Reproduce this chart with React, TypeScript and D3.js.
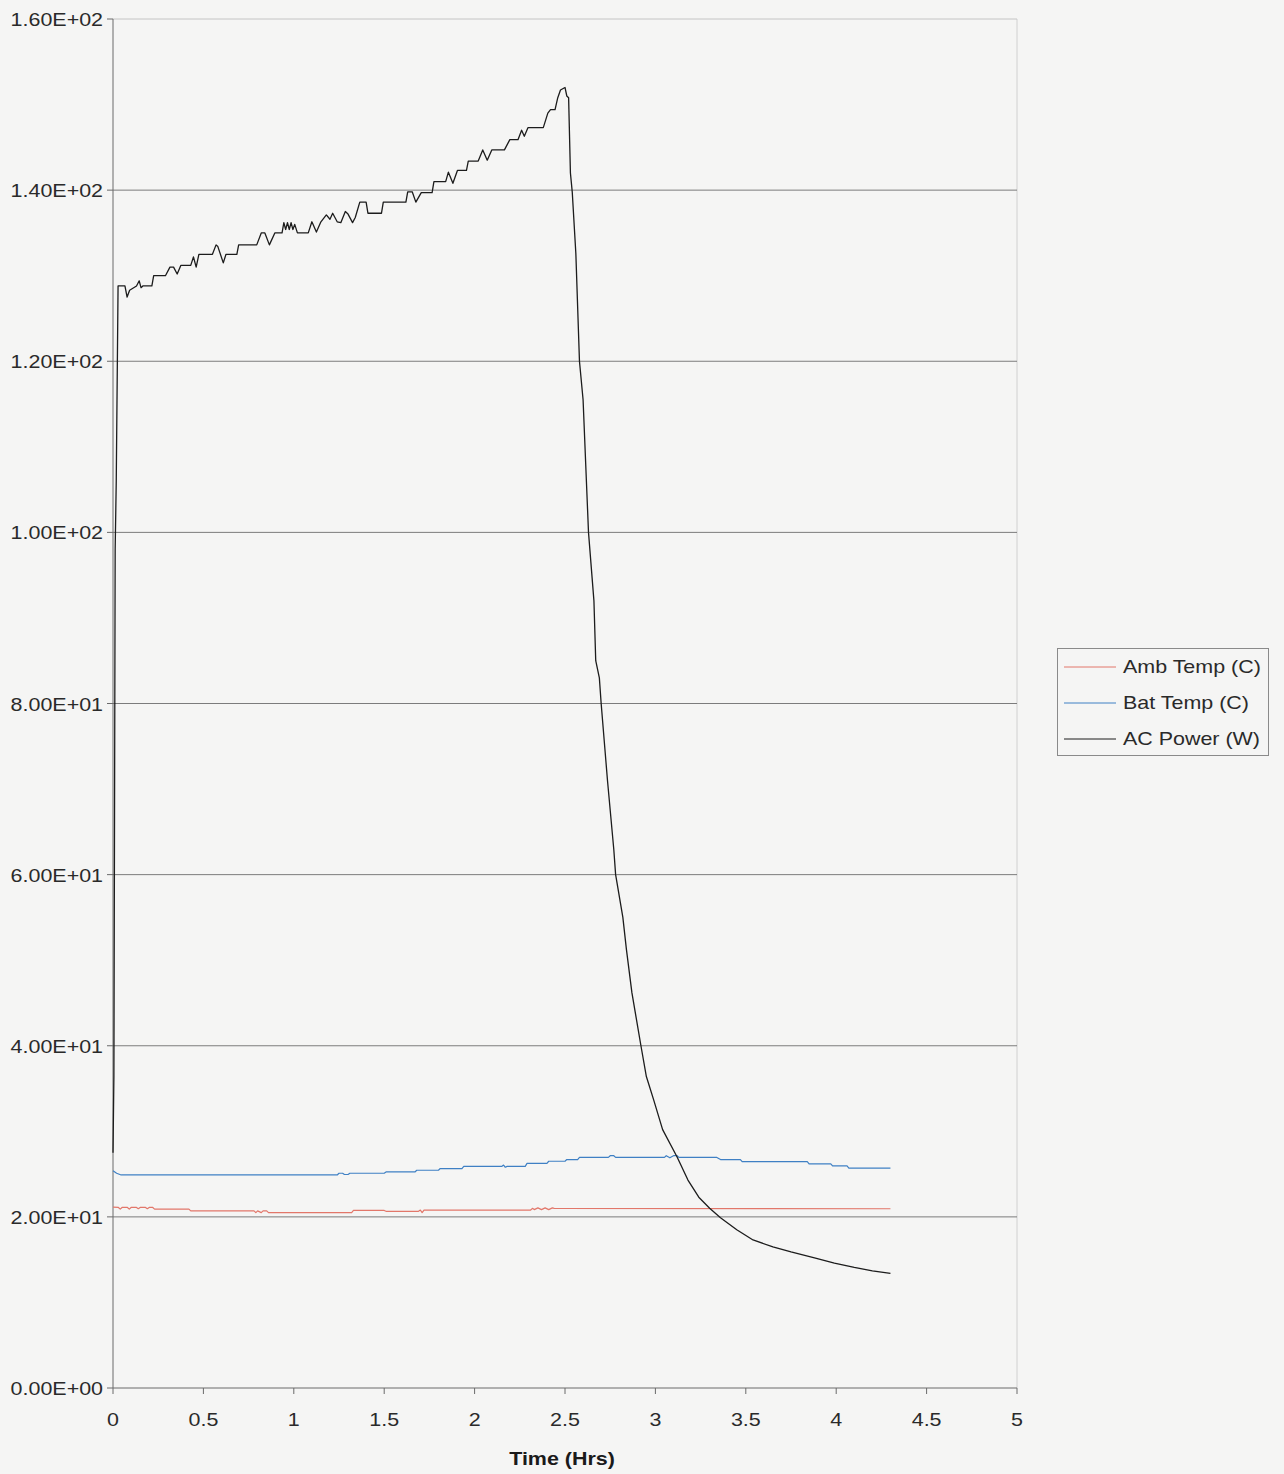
import React from "react";
import * as d3 from "d3";

type P = [number, number];

const yTicks = [0, 20, 40, 60, 80, 100, 120, 140, 160];
const xTicks = [0, 0.5, 1, 1.5, 2, 2.5, 3, 3.5, 4, 4.5, 5];
const seriesNames = ["Amb Temp (C)", "Bat Temp (C)", "AC Power (W)"];
const seriesColors = ["#e2776a", "#3f80c4", "#1c1c1c"];

const ambTemp: P[] = [
  [0, 21.15], [0.03, 21.1], [0.04, 20.9], [0.05, 21.1], [0.08, 21.1], [0.09, 20.9], [0.1, 21.1],
  [0.13, 21.1], [0.14, 20.95], [0.15, 21.1], [0.18, 21.1], [0.19, 20.95], [0.2, 21.1], [0.22, 21.1],
  [0.23, 20.9], [0.42, 20.9], [0.43, 20.7], [0.78, 20.7], [0.79, 20.5], [0.8, 20.7], [0.82, 20.5],
  [0.83, 20.7], [0.85, 20.7], [0.86, 20.5], [1.32, 20.5], [1.33, 20.75], [1.5, 20.75], [1.51, 20.65],
  [1.69, 20.65], [1.7, 20.8], [1.71, 20.5], [1.72, 20.8], [2.31, 20.8], [2.32, 21.0], [2.33, 20.85],
  [2.35, 21.05], [2.37, 20.85], [2.39, 21.05], [2.41, 20.85], [2.43, 21.05], [2.44, 21.0], [4.3, 20.95],
];

const batTemp: P[] = [
  [0, 25.4], [0.02, 25.1], [0.045, 24.9], [1.24, 24.9], [1.25, 25.1], [1.27, 25.1], [1.28, 24.95],
  [1.3, 24.95], [1.31, 25.1], [1.5, 25.1], [1.51, 25.25], [1.67, 25.25], [1.68, 25.45], [1.8, 25.45],
  [1.81, 25.65], [1.93, 25.65], [1.94, 25.9], [2.15, 25.9], [2.16, 26.05], [2.17, 25.8], [2.18, 25.9],
  [2.28, 25.9], [2.29, 26.25], [2.4, 26.25], [2.41, 26.5], [2.5, 26.5], [2.51, 26.7], [2.57, 26.7],
  [2.58, 26.95], [2.74, 26.95], [2.75, 27.15], [2.77, 27.15], [2.78, 26.95], [3.05, 26.95], [3.06, 27.15],
  [3.08, 26.9], [3.1, 27.15], [3.12, 27.15], [3.13, 26.95], [3.34, 26.95], [3.36, 26.7], [3.47, 26.7],
  [3.48, 26.45], [3.84, 26.45], [3.85, 26.2], [3.97, 26.2], [3.98, 25.95], [4.06, 25.95], [4.07, 25.7],
  [4.3, 25.7],
];

const acPower: P[] = [
  [0, 27.5], [0.005, 36.5], [0.012, 98], [0.018, 106], [0.028, 128.8], [0.066, 128.8], [0.078, 127.5],
  [0.092, 128.3], [0.13, 128.8], [0.145, 129.4], [0.155, 128.6], [0.165, 128.8], [0.215, 128.8],
  [0.225, 130.0], [0.29, 130.0], [0.315, 131.0], [0.335, 131.0], [0.355, 130.2], [0.375, 131.2],
  [0.43, 131.2], [0.445, 132.2], [0.46, 131.0], [0.475, 132.5], [0.55, 132.5], [0.57, 133.6],
  [0.58, 133.4], [0.61, 131.5], [0.625, 132.5], [0.685, 132.5], [0.695, 133.6], [0.795, 133.6],
  [0.82, 135.0], [0.84, 135.0], [0.865, 133.6], [0.895, 135.0], [0.935, 135.0], [0.945, 136.2],
  [0.955, 135.4], [0.965, 136.2], [0.975, 135.4], [0.985, 136.2], [0.995, 135.4], [1.005, 136.0],
  [1.02, 135.0], [1.08, 135.0], [1.1, 136.3], [1.125, 135.1], [1.15, 136.3], [1.18, 137.1],
  [1.2, 136.6], [1.215, 137.3], [1.24, 136.3], [1.26, 136.2], [1.285, 137.5], [1.3, 137.2],
  [1.325, 136.2], [1.34, 136.8], [1.365, 138.6], [1.4, 138.6], [1.41, 137.3], [1.485, 137.3],
  [1.495, 138.6], [1.62, 138.6], [1.63, 139.8], [1.655, 139.8], [1.675, 138.6], [1.705, 139.7],
  [1.765, 139.7], [1.775, 141.0], [1.84, 141.0], [1.855, 142.1], [1.88, 140.8], [1.905, 142.3],
  [1.955, 142.3], [1.965, 143.4], [2.02, 143.4], [2.045, 144.7], [2.07, 143.5], [2.095, 144.7],
  [2.165, 144.7], [2.195, 145.9], [2.24, 145.9], [2.26, 147.0], [2.275, 146.3], [2.295, 147.3],
  [2.38, 147.3], [2.405, 149.0], [2.42, 149.4], [2.445, 149.4], [2.46, 150.8], [2.475, 151.7],
  [2.5, 152.0], [2.51, 151.0], [2.52, 150.8], [2.53, 142], [2.54, 139.8], [2.56, 132.6], [2.58, 120],
  [2.6, 115.5], [2.63, 100], [2.66, 92], [2.67, 85], [2.69, 83], [2.7, 80], [2.735, 71], [2.77, 62.9],
  [2.78, 60], [2.82, 55], [2.84, 51.2], [2.87, 46.2], [2.92, 40], [2.95, 36.4], [2.99, 33.7],
  [3.04, 30.2], [3.12, 27], [3.18, 24.3], [3.24, 22.3], [3.3, 21.0], [3.36, 19.9], [3.45, 18.5],
  [3.54, 17.3], [3.65, 16.5], [3.75, 15.9], [3.88, 15.2], [3.99, 14.6], [4.1, 14.1], [4.2, 13.7],
  [4.3, 13.4],
];

const seriesData = [ambTemp, batTemp, acPower];

const W = 1284;
const H = 1474;
const left = 113;
const right = 1017;
const top = 19;
const bottom = 1388;
const FONT = "'Liberation Sans', Arial, sans-serif";
const SX = 1.16;
const FS = 18.5;

function fmtSci(v: number): string {
  const s = d3.format(".2e")(v);
  const [m, e] = s.split("e");
  const sign = e[0] === "-" ? "-" : "+";
  const digits = e.replace(/[+-]/, "").padStart(2, "0");
  return `${m}E${sign}${digits}`;
}

export default function App() {
  const x = d3.scaleLinear().domain([0, 5]).range([left, right]);
  const y = d3.scaleLinear().domain([0, 160]).range([bottom, top]);
  const line = d3
    .line<P>()
    .x((d) => x(d[0]))
    .y((d) => y(d[1]));

  return (
    <svg
      width={W}
      height={H}
      style={{ position: "absolute", left: 0, top: 0, display: "block" }}
      fontFamily={FONT}
    >
      <rect x={0} y={0} width={W} height={H} fill="#f5f5f4" />
      <line x1={right} x2={right} y1={top} y2={bottom} stroke="#d0d0d0" strokeWidth={1} />
      {yTicks.slice(1).map((t) => (
        <line
          key={"g" + t}
          x1={left}
          x2={right}
          y1={y(t)}
          y2={y(t)}
          stroke={t === 160 ? "#c4c4c4" : "#7c7c7c"}
          strokeWidth={1}
        />
      ))}
      <line x1={left} x2={left} y1={top} y2={bottom} stroke="#6a6a6a" strokeWidth={1} />
      <line x1={left} x2={right} y1={bottom} y2={bottom} stroke="#6a6a6a" strokeWidth={1} />
      {yTicks.map((t) => (
        <g key={"yt" + t}>
          <line x1={left - 6} x2={left} y1={y(t)} y2={y(t)} stroke="#6a6a6a" />
          <text
            transform={`translate(${left - 10},${y(t) + 7}) scale(${SX},1)`}
            textAnchor="end"
            fontSize={FS}
            fill="#2a2a2a"
          >
            {fmtSci(t)}
          </text>
        </g>
      ))}
      {xTicks.map((t) => (
        <g key={"xt" + t}>
          <line x1={x(t)} x2={x(t)} y1={bottom} y2={bottom + 6} stroke="#6a6a6a" />
          <text
            transform={`translate(${x(t)},${bottom + 38}) scale(${SX},1)`}
            textAnchor="middle"
            fontSize={FS}
            fill="#2a2a2a"
          >
            {String(t)}
          </text>
        </g>
      ))}
      <text
        transform={`translate(${562},${1465}) scale(${SX},1)`}
        textAnchor="middle"
        fontSize={FS}
        fontWeight="bold"
        fill="#1a1a1a"
      >
        Time (Hrs)
      </text>
      {seriesData.map((d, i) => (
        <path
          key={"s" + i}
          d={line(d) || ""}
          fill="none"
          stroke={seriesColors[i]}
          strokeWidth={i === 2 ? 1.3 : 1.2}
          strokeLinejoin="round"
        />
      ))}
      <rect x={1057.5} y={648.5} width={211} height={107} fill="#f5f5f4" stroke="#8a8a8a" />
      {seriesNames.map((n, i) => (
        <g key={"l" + i}>
          <line
            x1={1064}
            x2={1116}
            y1={667 + i * 36}
            y2={667 + i * 36}
            stroke={seriesColors[i]}
            strokeWidth={1}
          />
          <text
            transform={`translate(1123,${673 + i * 36}) scale(${SX},1)`}
            fontSize={FS}
            fill="#2a2a2a"
          >
            {n}
          </text>
        </g>
      ))}
    </svg>
  );
}
